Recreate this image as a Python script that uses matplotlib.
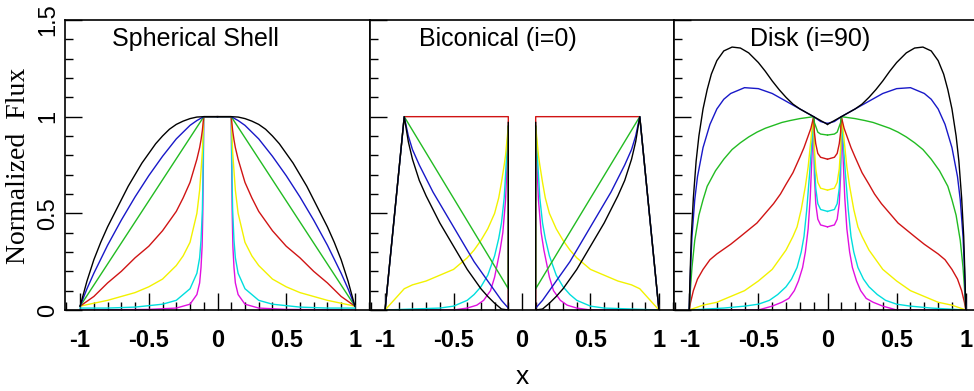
import matplotlib
matplotlib.use("Agg")
import matplotlib.pyplot as plt
from matplotlib.ticker import MultipleLocator

# colours used for the seven models (same order in every panel)
colors = ["#e010e0", "#00dede", "#f2f200", "#d01414", "#22bb22", "#1818c8", "#000000"]
names = ["magenta", "cyan", "yellow", "red", "green", "blue", "black"]

# ---------- Spherical Shell: right half (x >= 0), left half is its mirror ----------
sph_x = {
    "black":   [0, 0.1, 0.15, 0.2, 0.25, 0.3, 0.35, 0.4, 0.45, 0.5, 0.55, 0.6, 0.65, 0.7, 0.75, 0.8, 0.85, 0.9, 0.95, 1.0],
    "blue":    [0, 0.1, 0.15, 0.2, 0.3, 0.4, 0.5, 0.6, 0.7, 0.8, 0.9, 0.95, 1.0],
    "green":   [0, 0.1, 0.55, 1.0],
    "red":     [0, 0.1, 0.11, 0.12, 0.13, 0.15, 0.175, 0.2, 0.25, 0.3, 0.35, 0.4, 0.45, 0.5, 0.6, 0.7, 0.8, 0.9, 1.0],
    "yellow":  [0, 0.1, 0.11, 0.13, 0.15, 0.2, 0.25, 0.3, 0.4, 0.5, 0.6, 0.7, 0.8, 0.9, 1.0],
    "cyan":    [0, 0.1, 0.105, 0.11, 0.12, 0.13, 0.15, 0.2, 0.3, 0.4, 0.6, 0.8, 1.0],
    "magenta": [0, 0.1, 0.103, 0.107, 0.112, 0.12, 0.13, 0.15, 0.2, 0.3, 0.5, 1.0],
}
sph_y = {
    "black":   [1, 1, 0.998, 0.99, 0.977, 0.96, 0.935, 0.90, 0.86, 0.81, 0.76, 0.70, 0.64, 0.57, 0.50, 0.43, 0.35, 0.26, 0.15, 0.02],
    "blue":    [1, 1, 0.98, 0.955, 0.885, 0.795, 0.695, 0.585, 0.465, 0.335, 0.19, 0.11, 0.02],
    "green":   [1, 1, 0.51, 0.02],
    "red":     [1, 1, 0.93, 0.88, 0.84, 0.78, 0.72, 0.66, 0.58, 0.51, 0.46, 0.41, 0.37, 0.33, 0.27, 0.20, 0.14, 0.07, 0.02],
    "yellow":  [1, 1, 0.82, 0.62, 0.50, 0.35, 0.28, 0.23, 0.16, 0.12, 0.09, 0.07, 0.05, 0.035, 0.02],
    "cyan":    [1, 1, 0.72, 0.52, 0.36, 0.27, 0.19, 0.11, 0.05, 0.03, 0.015, 0.01, 0.01],
    "magenta": [1, 1, 0.75, 0.50, 0.33, 0.22, 0.14, 0.08, 0.03, 0.01, 0.003, 0.0],
}

# ---------- Biconical (i=0): left half (x <= -0.1), right half is its mirror ----------
bic_x = {
    "black":   [-1, -0.86, -0.83, -0.8, -0.75, -0.7, -0.65, -0.6, -0.55, -0.5, -0.45, -0.4, -0.35, -0.3, -0.25, -0.2, -0.15, -0.1, -0.1],
    "blue":    [-1, -0.86, -0.83, -0.8, -0.75, -0.7, -0.65, -0.6, -0.55, -0.5, -0.45, -0.4, -0.35, -0.3, -0.25, -0.2, -0.15, -0.1],
    "green":   [-1, -0.86, -0.1, -0.1],
    "red":     [-1, -0.86, -0.1, -0.1],
    "yellow":  [-1, -0.86, -0.8, -0.7, -0.6, -0.5, -0.4, -0.35, -0.3, -0.25, -0.2, -0.17, -0.15, -0.13, -0.12, -0.1],
    "cyan":    [-1, -0.8, -0.6, -0.5, -0.4, -0.35, -0.3, -0.25, -0.2, -0.17, -0.15, -0.13, -0.12, -0.1],
    "magenta": [-1, -0.5, -0.4, -0.33, -0.28, -0.23, -0.2, -0.18, -0.16, -0.14, -0.12, -0.11, -0.1],
}
bic_y = {
    "black":   [0, 1.0, 0.87, 0.78, 0.67, 0.59, 0.52, 0.45, 0.39, 0.33, 0.27, 0.21, 0.16, 0.11, 0.07, 0.035, 0.005, 0.0, 0.97],
    "blue":    [0, 1.0, 0.90, 0.83, 0.75, 0.68, 0.61, 0.55, 0.49, 0.43, 0.37, 0.31, 0.25, 0.20, 0.15, 0.10, 0.05, 0.01],
    "green":   [0, 1.0, 0.11, 0.95],
    "red":     [0, 1.0, 1.0, 0.0],
    "yellow":  [0, 0.11, 0.13, 0.15, 0.18, 0.21, 0.27, 0.31, 0.36, 0.42, 0.50, 0.58, 0.66, 0.75, 0.80, 0.95],
    "cyan":    [0, 0.005, 0.01, 0.02, 0.05, 0.08, 0.12, 0.18, 0.28, 0.37, 0.45, 0.58, 0.70, 0.95],
    "magenta": [0, 0.0, 0.01, 0.025, 0.05, 0.10, 0.17, 0.24, 0.31, 0.40, 0.57, 0.74, 0.95],
}

# ---------- Disk (i=90): left half (x <= 0), right half is its mirror ----------
dsk_x = {
    "black":   [-1, -0.995, -0.985, -0.97, -0.95, -0.93, -0.9, -0.87, -0.84, -0.8, -0.75, -0.69, -0.63, -0.57, -0.5,
                -0.45, -0.4, -0.35, -0.3, -0.25, -0.2, -0.15, -0.1, -0.05, 0],
    "blue":    [-1, -0.99, -0.98, -0.96, -0.94, -0.9, -0.85, -0.8, -0.75, -0.7, -0.6, -0.5, -0.4, -0.3, -0.2, -0.1, -0.05, 0],
    "green":   [-1, -0.99, -0.98, -0.96, -0.93, -0.9, -0.87, -0.81, -0.75, -0.69, -0.63, -0.57, -0.51, -0.45, -0.39,
                -0.33, -0.27, -0.2, -0.1, -0.095, -0.085, -0.07, -0.05, 0],
    "red":     [-1, -0.99, -0.97, -0.94, -0.9, -0.85, -0.8, -0.7, -0.63, -0.51, -0.45, -0.39, -0.34, -0.3, -0.25, -0.2,
                -0.17, -0.15, -0.12, -0.1, -0.095, -0.085, -0.07, -0.05, 0],
    "yellow":  [-1, -0.9, -0.8, -0.7, -0.6, -0.5, -0.4, -0.35, -0.3, -0.25, -0.22, -0.19, -0.16, -0.14, -0.12, -0.11,
                -0.1, -0.095, -0.085, -0.07, -0.05, 0],
    "cyan":    [-1, -0.75, -0.6, -0.5, -0.42, -0.36, -0.3, -0.26, -0.22, -0.19, -0.17, -0.15, -0.13, -0.115, -0.1,
                -0.095, -0.085, -0.07, -0.05, 0],
    "magenta": [-1, -0.5, -0.4, -0.33, -0.28, -0.24, -0.21, -0.18, -0.16, -0.14, -0.125, -0.115, -0.1,
                -0.095, -0.085, -0.07, -0.05, 0],
}
dsk_y = {
    "black":   [0, 0.15, 0.38, 0.58, 0.77, 0.90, 1.04, 1.14, 1.22, 1.29, 1.34, 1.36, 1.355, 1.33, 1.28,
                1.235, 1.185, 1.14, 1.10, 1.065, 1.04, 1.02, 1.0, 0.98, 0.96],
    "blue":    [0, 0.22, 0.38, 0.57, 0.69, 0.84, 0.96, 1.04, 1.09, 1.12, 1.15, 1.145, 1.12, 1.08, 1.04, 1.0, 0.975, 0.965],
    "green":   [0, 0.12, 0.22, 0.36, 0.49, 0.57, 0.64, 0.72, 0.78, 0.83, 0.865, 0.895, 0.92, 0.94, 0.955,
                0.97, 0.98, 0.99, 1.0, 0.97, 0.95, 0.92, 0.91, 0.905],
    "red":     [0, 0.04, 0.10, 0.16, 0.21, 0.26, 0.29, 0.34, 0.38, 0.45, 0.50, 0.55, 0.60, 0.65, 0.71, 0.79,
                0.84, 0.88, 0.94, 1.0, 0.92, 0.86, 0.81, 0.79, 0.78],
    "yellow":  [0, 0.025, 0.04, 0.07, 0.10, 0.15, 0.21, 0.26, 0.31, 0.38, 0.43, 0.52, 0.64, 0.74, 0.88, 0.95,
                1.0, 0.84, 0.73, 0.66, 0.63, 0.62],
    "cyan":    [0, 0.01, 0.02, 0.03, 0.05, 0.08, 0.12, 0.16, 0.22, 0.30, 0.38, 0.52, 0.70, 0.85, 1.0,
                0.77, 0.63, 0.55, 0.52, 0.51],
    "magenta": [0, 0.0, 0.02, 0.04, 0.06, 0.10, 0.15, 0.22, 0.30, 0.42, 0.58, 0.75, 1.0,
                0.70, 0.55, 0.47, 0.44, 0.43],
}

titles = ["Spherical Shell", "Biconical (i=0)", "Disk (i=90)"]
title_x = [-0.77, -0.75, -0.56]
xticks = [-1, -0.5, 0, 0.5, 1]
xtick_labels = ["-1", "-0.5", "0", "0.5", "1"]
yticks = [0, 0.5, 1, 1.5]
ytick_labels = ["0", "0.5", "1", "1.5"]

W, H = 974, 391
fig = plt.figure(figsize=(W / 100, H / 100), dpi=100)
bottom, height = (H - 310) / H, 290 / H
boxes = [(65, 305), (370, 304), (674, 307)]
panels = [(sph_x, sph_y), (bic_x, bic_y), (dsk_x, dsk_y)]

for i, ((left, width), (px, py)) in enumerate(zip(boxes, panels)):
    ax = fig.add_axes([left / W, bottom, width / W, height])
    for name, col in zip(names, colors):
        x, y = px[name], py[name]
        ax.plot(x, y, color=col, lw=1.0)
        # the other half is the mirror image
        ax.plot([-v for v in x], y, color=col, lw=1.0)

    ax.set_xlim(-1.11, 1.11)
    ax.set_ylim(0, 1.5)
    ax.xaxis.set_major_locator(MultipleLocator(0.5))
    ax.xaxis.set_minor_locator(MultipleLocator(0.1))
    ax.yaxis.set_major_locator(MultipleLocator(0.5))
    ax.yaxis.set_minor_locator(MultipleLocator(0.1))
    ax.tick_params(which="both", direction="in", top=False, right=False, width=1.0)
    ax.tick_params(which="major", length=12)
    ax.tick_params(which="minor", length=6)
    ax.set_xticks(xticks)
    ax.set_xticklabels(xtick_labels, fontsize=17, fontweight="bold", family="Liberation Sans")
    ax.tick_params(axis="x", pad=14)
    ax.set_yticks(yticks)
    if i == 0:
        ax.set_yticklabels(ytick_labels, fontsize=17, rotation=90, va="center",
                           family="Liberation Sans")
        ax.tick_params(axis="y", pad=4)
    else:
        ax.set_yticklabels([])
    for sp in ax.spines.values():
        sp.set_linewidth(1.2)
    ax.text(title_x[i], 1.40, titles[i], fontsize=18, family="Liberation Sans",
            ha="left", va="center")

fig.text(19 / W, 1 - 166 / H, "Normalized  Flux", rotation=90, ha="center", va="center",
         fontsize=20, family="Liberation Serif")
fig.text(522 / W, 1 - 377 / H, "x", ha="center", va="center", fontsize=19,
         family="Liberation Sans")

fig.savefig("out.png", dpi=100)
